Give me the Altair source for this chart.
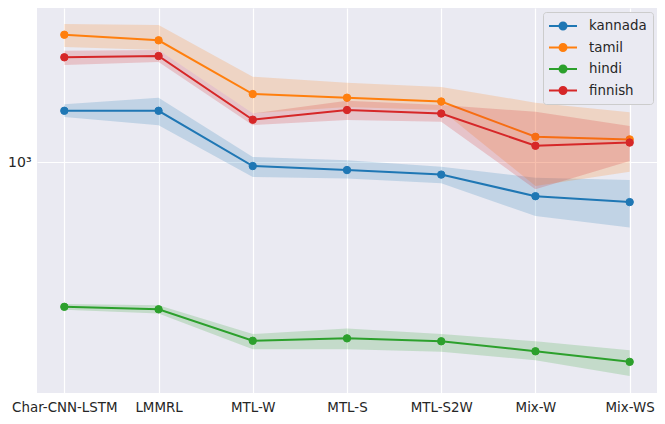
import altair as alt
import pandas as pd

models = ["Char-CNN-LSTM", "LMMRL", "MTL-W", "MTL-S", "MTL-S2W", "Mix-W", "Mix-WS"]
langs = ["kannada", "tamil", "hindi", "finnish"]
colors = ["#1f77b4", "#ff7f0e", "#2ca02c", "#d62728"]

kannada = [1300, 1300, 980, 960, 938, 840, 815]
kannada_lo = [1259, 1208, 927, 919, 897, 759, 716]
kannada_hi = [1345, 1390, 1027, 1010, 976, 923, 912]

tamil = [1918, 1864, 1416, 1390, 1363, 1138, 1123]
tamil_lo = [1801, 1773, 1283, 1325, 1305, 885, 952]
tamil_hi = [2026, 2016, 1547, 1500, 1468, 1355, 1290]

hindi = [477, 471, 401, 406, 400, 380, 360]
hindi_lo = [470, 461, 384, 384, 379, 363, 335]
hindi_hi = [484, 481, 415, 427, 415, 400, 382]

finnish = [1709, 1720, 1242, 1305, 1282, 1087, 1105]
finnish_lo = [1643, 1668, 1208, 1240, 1229, 870, 1005]
finnish_hi = [1767, 1773, 1283, 1369, 1339, 1294, 1202]

y_domain = [307, 2199]
y_ticks = [1000]

series = {
    "kannada": (kannada, kannada_lo, kannada_hi),
    "tamil": (tamil, tamil_lo, tamil_hi),
    "hindi": (hindi, hindi_lo, hindi_hi),
    "finnish": (finnish, finnish_lo, finnish_hi),
}

FONT = "DejaVu Sans"
TXT = "#262626"

xscale = alt.Scale(domain=models, type="point", padding=0.29)
yscale = alt.Scale(type="log", domain=y_domain, nice=False)
colorscale = alt.Scale(domain=langs, range=colors)

xaxis = alt.Axis(title=None, labelAngle=0, labelFontSize=13.4, labelFont=FONT,
                 labelColor=TXT, labelPadding=7, ticks=False, domain=False,
                 grid=True, gridColor="white", gridWidth=1.2)
yaxis = alt.Axis(title=None, values=y_ticks, labelExpr="'10³'", labelFontSize=14,
                 labelFont=FONT, labelColor=TXT, labelPadding=6, ticks=False,
                 domain=False, grid=True, gridColor="white", gridWidth=1.2)

legend_path = "M-2,0L2,0M0.5,0A0.5,0.5,0,1,1,-0.5,0A0.5,0.5,0,1,1,0.5,0Z"
legend = alt.Legend(title=None, orient="none", legendX=506, legendY=4,
                    symbolType=legend_path, symbolSize=196, symbolStrokeWidth=2,
                    symbolOpacity=1, symbolOffset=6, labelOffset=18,
                    labelFontSize=13.4, labelFont=FONT, labelColor=TXT,
                    padding=6, rowPadding=5.5, fillColor="#eaeaf2",
                    strokeColor="#cccccc", cornerRadius=3)

layers = []
for lang, c in zip(langs, colors):
    mean, lo, hi = series[lang]
    df = pd.DataFrame({"model": models, "lang": lang, "mean": mean, "lo": lo, "hi": hi})
    base = alt.Chart(df)
    x = alt.X("model:N", scale=xscale, sort=models, axis=xaxis)
    area = base.mark_area(color=c, opacity=0.2).encode(
        x=x, y=alt.Y("lo:Q", scale=yscale, axis=yaxis), y2="hi:Q")
    line = base.mark_line(color=c, strokeWidth=2).encode(
        x=x, y=alt.Y("mean:Q", scale=yscale, axis=yaxis))
    pts = base.mark_point(filled=True, opacity=1, size=55, strokeWidth=1).encode(
        x=x, y=alt.Y("mean:Q", scale=yscale, axis=yaxis),
        fill=alt.Fill("lang:N", scale=colorscale, legend=legend),
        stroke=alt.Stroke("lang:N", scale=colorscale, legend=legend))
    layers += [area, line, pts]

chart = alt.layer(*layers).properties(
    width=620, height=385,
    padding={"left": 29, "top": 0, "right": 0, "bottom": 24},
    autosize=alt.AutoSizeParams(type="none"),
    background="white",
).configure_view(fill="#eaeaf2", stroke=None)

chart.save("out.html", embed_options={"renderer": "svg", "actions": False})
